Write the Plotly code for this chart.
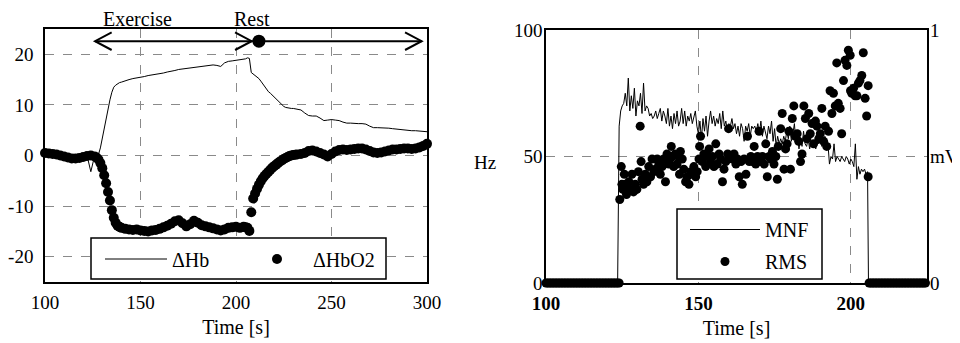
import numpy as np
import plotly.graph_objects as go

# ---------------- Left panel data (NIRS) ----------------
t_left = (list(range(100, 128, 2)) + list(range(127, 141)) + list(range(142, 206, 2))
          + list(range(205, 233)) + list(range(234, 301, 2)))

d_hb = [0.5, 0.4, 0.4, 0.3, 0.2, 0.1, 0.0, -0.2, -0.2, -0.1, 0.1, 0.0, -3.2, 0.0,
        0.1, 0.2, 1.5, 3.5, 5.5, 7.5, 9.3, 11.0, 12.5, 13.5, 13.9, 14.2, 14.4, 14.5,
        14.8, 15.0, 15.2, 15.3, 15.4, 15.6, 15.8, 15.9, 16.1, 16.2, 16.3, 16.5, 16.6, 16.8,
        17.0, 17.1, 17.2, 17.4, 17.5, 17.6, 17.7, 17.8, 17.8, 17.9, 17.8, 17.6, 18.3, 18.6,
        18.7, 18.8, 18.9, 19.0,
        19.1, 19.3, 19.2, 16.4, 16.1, 15.9, 15.6, 15.2, 14.7, 14.2, 13.6, 13.0, 12.6, 12.3,
        11.9, 11.5, 11.1, 10.8, 10.4, 10.0, 9.7, 9.5, 9.4, 9.4, 9.3, 9.3, 9.2, 9.2,
        9.0, 8.4, 7.9, 7.8, 7.8, 7.4, 6.9, 7.0, 7.1, 7.0, 6.9, 6.6, 6.4, 6.4, 6.3, 6.3,
        6.3, 6.2, 5.8, 5.5, 5.5, 5.5, 5.4, 5.4, 5.3, 5.2, 5.1, 5.0, 5.0, 4.9, 4.9, 4.8,
        4.8, 4.7]

d_hbo2 = [0.5, 0.4, 0.3, 0.2, 0.0, -0.2, -0.4, -0.6, -0.6, -0.5, -0.3, -0.1, 0.0, -0.2,
          -0.4, -0.8, -1.5, -2.5, -3.9, -5.5, -7.2, -8.9, -10.8, -12.3, -13.3, -13.9, -14.1,
          -14.3,
          -14.5, -14.6, -14.7, -14.6, -14.8, -14.9, -15.0, -14.8, -14.7, -14.5, -14.2, -13.9,
          -13.5, -13.0, -12.8, -13.4, -14.0, -13.6, -12.9, -13.3, -13.8, -14.0, -14.2, -14.4,
          -14.6, -14.8, -14.6, -14.3, -14.2, -14.1, -14.3, -14.1,
          -14.2, -14.3, -14.9, -11.2, -8.5, -7.5, -6.6, -5.8, -5.1, -4.5, -4.0, -3.6, -3.2,
          -2.8, -2.4, -2.1, -1.8, -1.5, -1.2, -1.0, -0.7, -0.5, -0.3, -0.1, 0.0, 0.1, 0.15,
          0.2,
          0.3, 0.5, 0.9, 1.0, 0.8, 0.5, 0.2, -0.2, 0.3, 0.8, 1.1, 1.2, 1.1, 1.2, 1.3, 1.4,
          1.4, 1.2, 0.9, 0.6, 0.5, 0.6, 0.8, 1.0, 1.2, 1.2, 1.3, 1.4, 1.4, 1.3, 1.4, 1.6,
          1.9, 2.3]

assert len(t_left) == len(d_hb) == len(d_hbo2), (len(t_left), len(d_hb), len(d_hbo2))

left_xticks = [100, 150, 200, 250, 300]
left_yticks = [-20, -10, 0, 10, 20]
left_ytext = ["-20", "-10", "0", "10", "20"]

# ---------------- Right panel data (EMG) ----------------
mnf_start = 124.0
mnf_step = 0.5
mnf_vals = [62, 68, 70, 71, 75, 70, 81, 68, 74, 69, 77, 66, 72, 70, 75, 67, 79, 68, 70, 69,
            66, 67, 65, 66, 68, 65, 67, 69, 64, 68, 66, 63, 69, 62, 66, 61, 67, 63, 68, 62,
            64, 69, 63, 68, 62, 66, 64, 67, 63, 65, 68, 62, 59, 64, 57, 65, 60, 66, 58, 64,
            68, 63, 66, 62, 65, 63, 67, 61, 68, 62, 64, 60, 63, 62, 65, 61, 63, 59, 62, 58,
            63, 61, 56, 62, 60, 63, 58, 62, 61, 62, 60, 63, 59, 64, 58, 62, 60, 57, 62, 59,
            64, 56, 61, 54, 58, 55, 57, 55, 58, 56, 60, 57, 62, 56, 59, 63, 55, 58, 53, 57,
            54, 60, 55, 54, 57, 53, 56, 54, 55, 53, 56, 55, 57, 54, 55, 58, 53, 55, 47, 50,
            49, 55, 48, 50, 49, 48, 50, 49, 48, 50, 49, 47, 49, 48, 46, 55, 41, 46, 43, 45,
            44, 45, 43, 44]
mnf_idle_before = [100.0, 123.5]
mnf_idle_after = [205.8, 225.0]

rms_t = [124.2, 124.7, 124.9, 125.2, 125.7, 126.0, 126.4, 126.8, 127.2, 127.6, 128.2, 128.7,
         129.3, 129.8, 130.3, 130.9, 131.2, 131.5, 132.0, 132.6, 133.1, 133.7, 134.3, 134.8,
         135.4, 135.9, 136.5, 137.0, 137.5, 138.1, 138.6, 139.2, 139.7, 140.3, 140.7, 141.1,
         141.5, 141.9, 142.4, 143.0, 143.6, 143.8, 144.1, 144.7, 145.2, 145.8, 146.3, 146.9,
         147.5, 148.0, 148.5, 149.1, 149.6, 150.2, 150.4, 150.7, 151.3, 151.8, 152.4, 153.0,
         153.5, 154.0, 154.6, 155.1, 155.7, 156.2, 156.8, 157.3, 157.9, 158.4, 159.0, 159.6,
         159.9, 160.5, 161.2, 161.7, 162.3, 162.8, 163.4, 164.0, 164.4, 165.0, 165.6, 166.1,
         166.7, 167.2, 167.8, 168.3, 168.8, 169.4, 169.9, 170.5, 171.0, 171.6, 172.1, 172.6,
         173.2, 173.8, 174.3, 174.8, 175.4, 175.9, 176.2, 177.0, 177.5, 178.1, 178.6, 179.1,
         179.7, 180.2, 180.8, 181.3, 181.8, 182.4, 182.9, 183.5, 184.0, 184.6, 185.1, 185.6,
         186.2, 186.7, 187.3, 187.8, 188.4, 188.9, 189.5, 190.0, 190.5, 191.1, 191.6, 192.1,
         192.7, 193.2, 193.8, 194.3, 194.9, 195.4, 195.9, 196.5, 197.0, 197.6, 198.1, 198.7,
         199.2, 199.8, 199.9, 200.3, 200.9, 201.4, 202.0, 202.5, 203.0, 203.6, 204.1, 204.7,
         205.2, 205.7, 205.7]
rms_v = [0.33, 0.46, 0.39, 0.37, 0.43, 0.39, 0.35, 0.36, 0.40, 0.37, 0.43, 0.36,
         0.39, 0.37, 0.44, 0.62, 0.48, 0.41, 0.39, 0.43, 0.40, 0.46, 0.42, 0.49,
         0.44, 0.45, 0.49, 0.47, 0.43, 0.46, 0.49, 0.40, 0.51, 0.47, 0.49, 0.54,
         0.50, 0.46, 0.51, 0.47, 0.50, 0.43, 0.52, 0.49, 0.45, 0.40, 0.42, 0.39,
         0.44, 0.43, 0.46, 0.42, 0.44, 0.49, 0.54, 0.58, 0.48, 0.51, 0.46, 0.50,
         0.53, 0.48, 0.50, 0.46, 0.55, 0.47, 0.51, 0.49, 0.40, 0.45, 0.48, 0.51,
         0.61, 0.50, 0.49, 0.51, 0.47, 0.49, 0.42, 0.48, 0.39, 0.49, 0.43, 0.58,
         0.48, 0.50, 0.48, 0.54, 0.47, 0.50, 0.60, 0.48, 0.50, 0.47, 0.55, 0.42,
         0.50, 0.49, 0.52, 0.47, 0.50, 0.41, 0.54, 0.61, 0.67, 0.45, 0.53, 0.55,
         0.60, 0.45, 0.65, 0.70, 0.58, 0.59, 0.56, 0.48, 0.51, 0.70, 0.65, 0.57,
         0.67, 0.59, 0.63, 0.55, 0.64, 0.62, 0.57, 0.59, 0.69, 0.56, 0.62, 0.54,
         0.60, 0.76, 0.67, 0.75, 0.70, 0.87, 0.71, 0.69, 0.59, 0.80, 0.88, 0.86,
         0.92, 0.90, 0.76, 0.75, 0.77, 0.74, 0.74, 0.79, 0.80, 0.82, 0.91, 0.73,
         0.66, 0.78, 0.42]
assert len(rms_t) == len(rms_v)

rms_idle_before_t = np.arange(100.0, 124.01, 0.5)
rms_idle_after_t = np.arange(206.0, 224.61, 0.5)

right_xticks = [100, 150, 200]
right_yticks = [0, 50, 100]

# ---------------- build ----------------
FONT = "Liberation Serif"
FS = 19
OFF = 8                      # page body margin of the browser
W, H = 960 - OFF, 343 - OFF
mnf_t = [mnf_start + mnf_step * i for i in range(len(mnf_vals))]


def px_x(p):
    return (p - OFF) / W


def px_y(p):
    return 1 - (p - OFF) / H


fig = go.Figure()

fig.add_trace(go.Scatter(x=t_left, y=d_hb, mode="lines", name="ΔHb",
                         line=dict(color="black", width=1), legend="legend",
                         xaxis="x", yaxis="y"))
fig.add_trace(go.Scatter(x=t_left, y=d_hbo2, mode="markers", name="ΔHbO2",
                         marker=dict(color="black", size=10), cliponaxis=False,
                         legend="legend", xaxis="x", yaxis="y"))

fig.add_trace(go.Scatter(x=mnf_idle_before + mnf_t + mnf_idle_after,
                         y=[0, 0] + mnf_vals + [0, 0], mode="lines", name="MNF",
                         line=dict(color="black", width=1), legend="legend2",
                         legendgroup="a", xaxis="x2", yaxis="y2", cliponaxis=False))
rx = list(rms_idle_before_t) + rms_t + list(rms_idle_after_t)
ry = [0.0] * len(rms_idle_before_t) + rms_v + [0.0] * len(rms_idle_after_t)
fig.add_trace(go.Scatter(x=rx, y=ry, mode="markers", name="RMS",
                         marker=dict(color="black", size=9), cliponaxis=False,
                         legend="legend2", legendgroup="b", xaxis="x2", yaxis="y3"))

tfont = dict(family=FONT, size=FS, color="black")
title_font = dict(family=FONT, size=20, color="black")
grid = dict(showgrid=True, gridcolor="#8a8a8a", griddash="dash", gridwidth=1,
            showline=True, linecolor="black", linewidth=1.5, mirror=True,
            zeroline=False, ticks="", automargin=False, tickfont=tfont)

fig.update_layout(
    width=W, height=H, margin=dict(l=0, r=0, t=0, b=0, pad=0),
    paper_bgcolor="white", plot_bgcolor="white",
    font=dict(family=FONT, size=FS, color="black"),
    xaxis=dict(domain=[px_x(45), px_x(427)], range=[100, 300], tickvals=left_xticks,
               anchor="y", ticklabelstandoff=2,
               title=dict(text="Time [s]", standoff=8, font=title_font), **grid),
    yaxis=dict(domain=[px_y(282), px_y(29)], range=[-25, 25], tickvals=left_yticks,
               ticktext=left_ytext, anchor="x", ticklabelstandoff=6, **grid),
    xaxis2=dict(domain=[px_x(546), px_x(927)], range=[100, 225], tickvals=right_xticks,
                anchor="y2", ticklabelstandoff=2,
                title=dict(text="Time [s]", standoff=8, font=title_font), **grid),
    yaxis2=dict(domain=[px_y(283), px_y(30)], range=[0, 100], tickvals=right_yticks,
                anchor="x2", ticklabelstandoff=-2, **grid),
    yaxis3=dict(overlaying="y2", side="right", range=[0, 1], tickvals=[0, 0.5, 1],
                ticktext=["0", "mV", "1"], showgrid=False, showline=False,
                zeroline=False, anchor="x2", automargin=False, ticklabelstandoff=2,
                tickfont=tfont),
    legend=dict(orientation="h", x=px_x(100), y=px_y(259), xanchor="left", yanchor="middle",
                borderwidth=0, bgcolor="rgba(0,0,0,0)",
                entrywidth=64, itemwidth=62, font=dict(family=FONT, size=20)),
    legend2=dict(orientation="v", x=px_x(685), y=px_y(210), xanchor="left", yanchor="top",
                 borderwidth=0, bgcolor="rgba(0,0,0,0)",
                 tracegroupgap=3, itemwidth=70, font=dict(family=FONT, size=20)),
)
fig.update_xaxes(tickfont=dict(weight="bold"), selector=dict(anchor="y2"))

# Exercise / Rest arrows (left panel)
ARROW_Y = 22.6
EX_START, EX_END, REST_MARK, REST_END = 126.2, 208.2, 212.0, 297.2
HEAD_DX, HEAD_DY = 8.7, 1.75
shapes = [
    dict(type="line", xref="x", yref="y", x0=EX_START, x1=REST_END, y0=ARROW_Y, y1=ARROW_Y,
         line=dict(color="black", width=2)),
    dict(type="path", xref="x", yref="y",
         path=f"M{EX_START+HEAD_DX},{ARROW_Y+HEAD_DY} L{EX_START},{ARROW_Y} L{EX_START+HEAD_DX},{ARROW_Y-HEAD_DY}",
         line=dict(color="black", width=2)),
    dict(type="path", xref="x", yref="y",
         path=f"M{EX_END-HEAD_DX},{ARROW_Y+HEAD_DY} L{EX_END},{ARROW_Y} L{EX_END-HEAD_DX},{ARROW_Y-HEAD_DY}",
         line=dict(color="black", width=2)),
    dict(type="path", xref="x", yref="y",
         path=f"M{REST_END-HEAD_DX},{ARROW_Y+HEAD_DY} L{REST_END},{ARROW_Y} L{REST_END-HEAD_DX},{ARROW_Y-HEAD_DY}",
         line=dict(color="black", width=2)),
    dict(type="circle", xref="x", yref="y", xsizemode="pixel", ysizemode="pixel",
         xanchor=REST_MARK, yanchor=ARROW_Y, x0=-6.5, x1=6.5, y0=-6.5, y1=6.5,
         fillcolor="black", line=dict(color="black", width=0)),
    # legend frames
    dict(type="rect", xref="paper", yref="paper", layer="above",
         x0=px_x(91), x1=px_x(386), y0=px_y(279), y1=px_y(238),
         fillcolor="white", line=dict(color="black", width=1.5)),
    dict(type="rect", xref="paper", yref="paper", layer="above",
         x0=px_x(677), x1=px_x(822), y0=px_y(279), y1=px_y(209),
         fillcolor="white", line=dict(color="black", width=1.5)),
]
fig.update_layout(shapes=shapes)

fig.add_annotation(text="Exercise", xref="x", yref="paper", x=148.4, y=px_y(18.5),
                   xanchor="center", yanchor="middle", showarrow=False, font=title_font)
fig.add_annotation(text="Rest", xref="x", yref="paper", x=208.6, y=px_y(18.5),
                   xanchor="center", yanchor="middle", showarrow=False, font=title_font)
fig.add_annotation(text="Hz", xref="paper", yref="paper", x=px_x(485), y=px_y(162),
                   xanchor="center", yanchor="middle", showarrow=False, font=tfont)

fig.write_html("out.html")
